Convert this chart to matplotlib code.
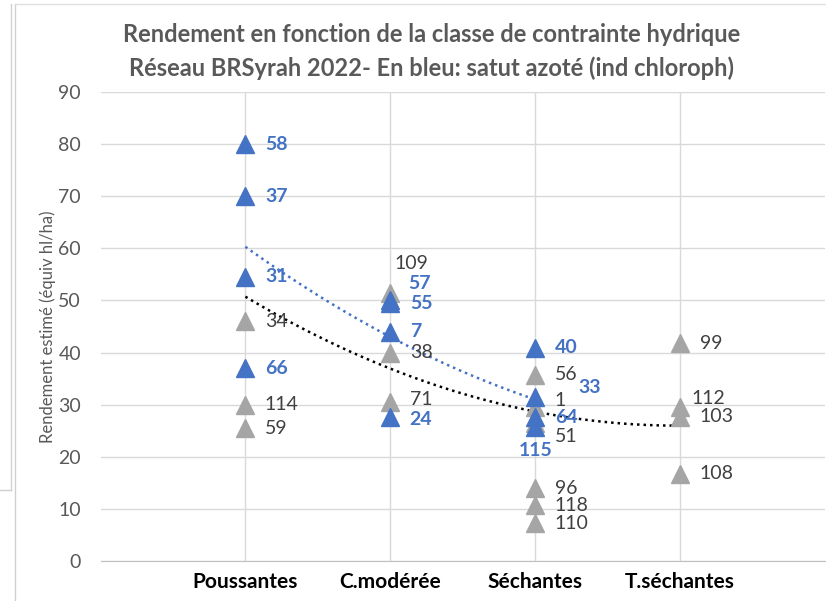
import numpy as np
import matplotlib.pyplot as plt
from matplotlib.lines import Line2D

# category positions (1..4) and labels
categories = ["Poussantes", "C.modérée", "Séchantes", "T.séchantes"]

# blue series: nitrogen-saturated plots (label = plot id)
blue_x = [1, 1, 1, 1, 2, 2, 2, 2, 3, 3, 3, 3]
blue_y = [80.0, 70.0, 54.5, 37.0, 50.0, 49.5, 44.0, 27.6, 40.9, 31.5, 27.6, 25.7]
blue_lbl = ["58", "37", "31", "66", "57", "55", "7", "24", "40", "33", "64", "115"]

# grey series: other plots
grey_x = [1, 1, 1, 2, 2, 2, 3, 3, 3, 3, 3, 3, 4, 4, 4, 4]
grey_y = [46.0, 30.0, 25.5, 51.5, 40.0, 30.5, 35.7, 29.5, 26.5, 14.0, 10.7, 7.2,
          41.8, 29.5, 27.7, 16.7]
grey_lbl = ["34", "114", "59", "109", "38", "71", "56", "1", "51", "96", "118", "110",
            "99", "112", "103", "108"]

# trendline values read at each category (drawn as order-2 polynomials)
trend_blue_x = [1, 2, 3]
trend_blue_y = [60.3, 43.0, 31.0]
trend_black_x = [1, 2, 3, 4]
trend_black_y = [50.7, 37.0, 28.6, 26.0]

# label offsets in points for labels that were moved by hand in the original
blue_off = {"57": (13, 12), "55": (14, 0), "33": (31, 7), "64": (14, 0), "24": (14, -2)}
grey_off = {"109": (3, 21), "112": (8, 6), "103": (14, 0), "1": (14, 5), "51": (14, -10),
            "71": (14, 2)}

BLUE = "#4472C4"
GREY = "#A5A5A5"
TXT = "#595959"
plt.rcParams['font.family'] = ['Lato', 'DejaVu Sans']

fig = plt.figure(figsize=(8.26, 6.01), dpi=100)
ax = fig.add_axes([100.5 / 826, 1 - 561 / 601, (825 - 100.5) / 826, (561 - 92) / 601])

xs = np.linspace(1, 3, 100)
ax.plot(xs, np.polyval(np.polyfit(trend_blue_x, trend_blue_y, 2), xs),
        ls=(0, (1, 1.6)), color=BLUE, lw=1.8, zorder=2)
xs = np.linspace(1, 4, 100)
ax.plot(xs, np.polyval(np.polyfit(trend_black_x, trend_black_y, 2), xs),
        ls=(0, (1, 1.6)), color="black", lw=1.8, zorder=2)

ax.plot(grey_x, grey_y, ls="none", marker="^", ms=12.5, color=GREY, mec=GREY, zorder=3)
ax.plot(blue_x, blue_y, ls="none", marker="^", ms=12.5, color=BLUE, mec=BLUE, zorder=4)

for x, y, t in zip(grey_x, grey_y, grey_lbl):
    off = grey_off.get(t, (14, 0))
    ax.annotate(t, (x, y), xytext=off, textcoords="offset points",
                ha="left", va="center", fontsize=14, color="#404040", zorder=5)
for x, y, t in zip(blue_x, blue_y, blue_lbl):
    if t == "115":
        ax.annotate(t, (x, y), xytext=(0, -17), textcoords="offset points",
                    ha="center", va="center", fontsize=14, color=BLUE,
                    fontweight="bold", zorder=6)
        continue
    off = blue_off.get(t, (14, 0))
    ax.annotate(t, (x, y), xytext=off, textcoords="offset points",
                ha="left", va="center", fontsize=14, color=BLUE,
                fontweight="bold", zorder=6)

ax.set_xlim(0, 5)
ax.set_ylim(0, 90)
ax.set_yticks(range(0, 91, 10))
ax.set_xticks([1, 2, 3, 4])
ax.set_xticklabels(categories, fontsize=15, fontweight="bold", color="black")
ax.tick_params(axis="y", labelsize=14, labelcolor=TXT, length=0, pad=14)
ax.tick_params(axis="x", length=0, pad=8)
ax.grid(True, color="#D9D9D9", lw=1)
ax.set_axisbelow(True)
for s in ["top", "right", "left"]:
    ax.spines[s].set_visible(False)
ax.spines["bottom"].set_color("#BFBFBF")
ax.set_ylabel("Rendement estimé (équiv hl/ha)", fontsize=12, color=TXT, labelpad=2)

fig.text(0.522, 1 - 35 / 601, "Rendement en fonction de la classe de contrainte hydrique",
         ha="center", va="center", fontsize=17, fontweight="bold", color=TXT)
fig.text(0.522, 1 - 68 / 601, "Réseau BRSyrah 2022- En bleu: satut azoté (ind chloroph)",
         ha="center", va="center", fontsize=17, fontweight="bold", color=TXT)

# faint window borders visible at the left / top of the screenshot
fig.add_artist(Line2D([11 / 826, 11 / 826], [1 - 4 / 601, 1 - 490 / 601], color="#D0D0D0", lw=1))
fig.add_artist(Line2D([0, 11 / 826], [1 - 490 / 601, 1 - 490 / 601], color="#D0D0D0", lw=1))
fig.add_artist(Line2D([15 / 826, 15 / 826], [1 - 4 / 601, 0], color="#D0D0D0", lw=1))
fig.add_artist(Line2D([15 / 826, 1], [1 - 4 / 601, 1 - 4 / 601], color="#E0E0E0", lw=1))

fig.savefig("out.png", dpi=100)
